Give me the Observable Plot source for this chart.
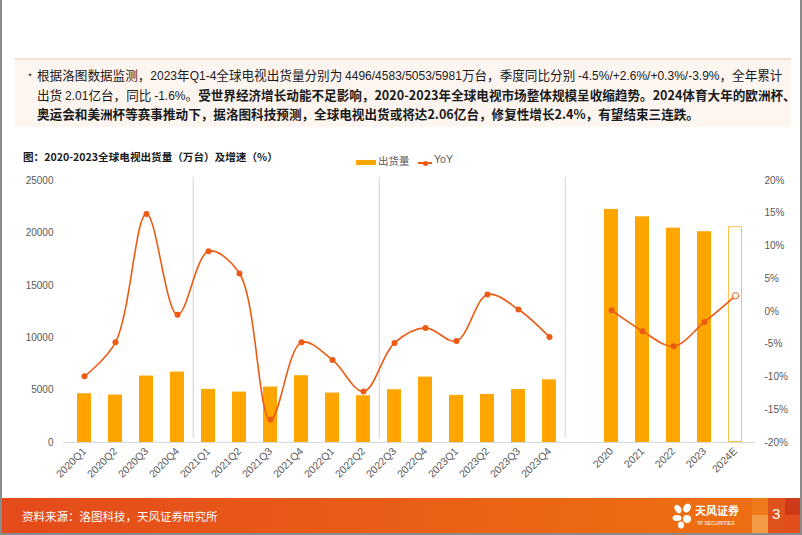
<!DOCTYPE html>
<html>
<head>
<meta charset="utf-8">
<script src="https://cdn.jsdelivr.net/npm/d3@7"></script>
<script src="https://cdn.jsdelivr.net/npm/@observablehq/plot@0.6"></script>
<style>
  html, body { margin: 0; padding: 0; }
  body { width: 802px; height: 535px; position: relative; overflow: hidden; background: #fff;
         font-family: "Noto Sans CJK SC", "Noto Sans", sans-serif; }
  .frameL { position: absolute; left: 0; top: 0; width: 2px; height: 535px; background: #8a8a8a; }
  .frameR { position: absolute; right: 0; top: 0; width: 2px; height: 535px; background: #8a8a8a; }
  .box { position: absolute; left: 15px; top: 58px; width: 776px; height: 69px; background: #fdf5f0;
         border-top: 2px solid #f1dfd2; box-sizing: border-box; }
  .bullet { position: absolute; left: 24px; top: 66px; font-size: 12px; color: #555; }
  .txt { position: absolute; left: 37px; top: 66px; font-size: 12.6px; line-height: 17.6px; color: #1a1a1a;
         white-space: nowrap; }
  .txt b { font-weight: 700; }
  .num { font-family: "Liberation Sans", Arial, sans-serif; font-size: 12px; }
  .title { position: absolute; left: 23px; top: 149px; font-size: 10.6px; font-weight: 700; color: #1a1a1a; white-space: nowrap; }
  .legend { position: absolute; top: 155px; left: 0; font-size: 10.5px; color: #595959; }
  #chart { position: absolute; left: 0; top: 170px; }
  .footer { position: absolute; left: 0; top: 498px; width: 802px; height: 35px;
            background: linear-gradient(to right, #e54a1b 0%, #e95c17 45%, #ed6d12 85%); }
  .footer .src { position: absolute; left: 22px; top: 10px; font-size: 11.5px; color: #fff; white-space: nowrap; }
  .bottom { position: absolute; left: 0; top: 533px; width: 802px; height: 2px; background: #8a8a8a; }
</style>
</head>
<body>
<div class="box"></div>
<div class="bullet">•</div>
<div class="txt" id="txt"></div>
<div class="title" id="title"></div>
<div class="legend" id="legend"></div>
<div id="chart"></div>
<div class="footer" id="footer"></div>
<div class="frameL"></div>
<div class="frameR"></div>
<div class="bottom"></div>
<script>
// ---------- data ----------
const quarters = ["2020Q1","2020Q2","2020Q3","2020Q4","2021Q1","2021Q2","2021Q3","2021Q4",
                  "2022Q1","2022Q2","2022Q3","2022Q4","2023Q1","2023Q2","2023Q3","2023Q4"];
const quarterShipments = [4650, 4530, 6340, 6720, 5065, 4810, 5290, 6370,
                          4715, 4460, 5035, 6240, 4496, 4583, 5053, 5981];
const quarterYoY = [-9.9, -4.7, 14.9, -0.5, 9.2, 5.8, -16.5, -4.7,
                    -7.4, -12.2, -4.8, -2.5, -4.5, 2.6, 0.3, -3.9];
const years = ["2020","2021","2022","2023","2024E"];
const yearShipments = [22240, 21535, 20450, 20113, 20596];
const yearYoY = [0.2, -3.0, -5.3, -1.6, 2.4];
const forecastYear = "2024E";
const gapSlot = " ";
const separatorsAfter = ["2020Q4", "2022Q2", "2023Q4"];
const leftTicks = [0, 5000, 10000, 15000, 20000, 25000];
const rightTicks = [-20, -15, -10, -5, 0, 5, 10, 15, 20];

const titleText = "图：2020-2023全球电视出货量（万台）及增速（%）";
const seriesNames = ["出货量", "YoY"];
const sourceText = "资料来源：洛图科技，天风证券研究所";

// ---------- colors ----------
const barColor = "#FFA500";
const lineColor = "#EC5B13";
const gridColor = "#d9d9d9";

// ---------- text blocks ----------
document.getElementById("txt").innerHTML =
  '根据洛图数据监测，<span class="num">2023</span>年<span class="num">Q1-4</span>全球电视出货量分别为 <span class="num">4496/4583/5053/5981</span>万台，季度同比分别 <span class="num">-4.5%/+2.6%/+0.3%/-3.9%</span>，全年累计<br>' +
  '出货 <span class="num">2.01</span>亿台，同比 <span class="num">-1.6%</span>。<b>受世界经济增长动能不足影响，2020-2023年全球电视市场整体规模呈收缩趋势。2024体育大年的欧洲杯、</b><br>' +
  '<b>奥运会和美洲杯等赛事推动下，据洛图科技预测，全球电视出货或将达2.06亿台，修复性增长2.4%，有望结束三连跌。</b>';
document.getElementById("title").textContent = titleText;
document.getElementById("legend").innerHTML =
  `<div style="position:absolute;left:356px;top:5px;width:20px;height:5px;background:${barColor}"></div>` +
  `<div style="position:absolute;left:378px;top:-2px;white-space:nowrap">${seriesNames[0]}</div>` +
  `<div style="position:absolute;left:418px;top:7px;width:14px;height:1.5px;background:${lineColor}"></div>` +
  `<div style="position:absolute;left:422.5px;top:5.5px;width:5px;height:5px;border-radius:50%;background:${lineColor}"></div>` +
  `<div style="position:absolute;left:434px;top:-2px;white-space:nowrap;font-family:'Liberation Sans',Arial">${seriesNames[1]}</div>`;
document.getElementById("footer").innerHTML =
  `<div class="src">${sourceText}</div>` +
  `<svg style="position:absolute;left:672px;top:5px" width="22" height="26" viewBox="0 0 22 26">
     <ellipse cx="6" cy="6" rx="3" ry="4.5" fill="#fff" transform="rotate(-30 6 6)"/>
     <ellipse cx="15" cy="5" rx="3.5" ry="4.5" fill="#fff" transform="rotate(30 15 5)"/>
     <ellipse cx="5" cy="15" rx="4.5" ry="3" fill="#fff"/>
     <ellipse cx="15" cy="16" rx="4" ry="4" fill="#fff"/>
     <ellipse cx="9" cy="22" rx="3" ry="3.5" fill="#fff"/>
   </svg>` +
  `<div style="position:absolute;left:695px;top:5px;font-size:11px;font-weight:700;color:#fff;white-space:nowrap;line-height:14px">天风证券</div>` +
  `<div style="position:absolute;left:697px;top:22px;font-size:5px;color:#fff;white-space:nowrap;line-height:6px;font-family:'Liberation Sans'">TF SECURITIES</div>` +
  `<div style="position:absolute;left:752px;top:0;width:16px;height:35px;background:#ee7a1c"></div>` +
  `<div style="position:absolute;left:752px;top:17px;width:16px;height:18px;background:#f39a45"></div>` +
  `<div style="position:absolute;left:768px;top:0;width:17px;height:35px;background:#e0521c"></div>` +
  `<div style="position:absolute;left:785px;top:0;width:17px;height:35px;background:#cf3a1a"></div>` +
  `<div style="position:absolute;left:785px;top:17px;width:17px;height:18px;background:#e24e1c"></div>` +
  `<div style="position:absolute;left:772px;top:7px;font-size:15px;color:#fff;font-family:'Liberation Sans',Arial">3</div>`;

// ---------- chart ----------
const toLeft = p => (p + 20) * 625;          // map YoY % onto the shipment axis
const fromLeft = v => Math.round(v / 625 - 20);

const quarterRows = quarters.map((q, i) => ({cat: q, ship: quarterShipments[i], yoy: quarterYoY[i]}));
const yearRows = years.map((y, i) => ({cat: y, ship: yearShipments[i], yoy: yearYoY[i]}));
const domain = [...quarters, gapSlot, ...years];

const W = 802, H = 328, mL = 63, mR = 47, mT = 10, mB = 56;
const step = (W - mL - mR) / domain.length;

const chart = Plot.plot({
  width: W, height: H,
  marginLeft: mL, marginRight: mR, marginTop: mT, marginBottom: mB,
  style: {fontFamily: "'Liberation Sans', Arial, sans-serif", background: "transparent"},
  x: {type: "band", domain, paddingInner: 0.55, paddingOuter: 0.275, axis: null, label: null},
  y: {domain: [0, 25000], axis: null, label: null},
  marks: [
    Plot.ruleX(separatorsAfter, {x: d => d, y1: 0, y2: 25000, dx: step / 2, insetTop: -4, insetBottom: 3, stroke: gridColor, strokeWidth: 1.2}),
    Plot.ruleY([0], {stroke: gridColor, strokeWidth: 1.2}),
    Plot.barY(quarterRows, {x: "cat", y: "ship", fill: barColor}),
    Plot.barY(yearRows.filter(d => d.cat !== forecastYear), {x: "cat", y: "ship", fill: barColor}),
    Plot.barY(yearRows.filter(d => d.cat === forecastYear), {x: "cat", y: "ship", fill: "#fff", stroke: "#FFC04D", strokeWidth: 1, inset: 0.5}),
    Plot.line(quarterRows, {x: "cat", y: d => toLeft(d.yoy), stroke: lineColor, strokeWidth: 1.6, curve: "catmull-rom"}),
    Plot.dot(quarterRows, {x: "cat", y: d => toLeft(d.yoy), r: 3, fill: lineColor}),
    Plot.line(yearRows, {x: "cat", y: d => toLeft(d.yoy), stroke: lineColor, strokeWidth: 1.6, curve: "catmull-rom"}),
    Plot.dot(yearRows.filter(d => d.cat !== forecastYear), {x: "cat", y: d => toLeft(d.yoy), r: 3, fill: lineColor}),
    Plot.dot(yearRows.filter(d => d.cat === forecastYear), {x: "cat", y: d => toLeft(d.yoy), r: 3.2, fill: "#fff", stroke: lineColor, strokeWidth: 1}),
    Plot.axisY(leftTicks, {anchor: "left", label: null, tickSize: 0, tickPadding: 10, fontSize: 10, color: "#595959", tickFormat: d => String(d)}),
    Plot.axisY(rightTicks.map(toLeft), {anchor: "right", label: null, tickSize: 0, tickPadding: 9, fontSize: 10, color: "#595959", tickFormat: v => fromLeft(v) + "%"}),
    Plot.axisX({label: null, tickRotate: -45, tickSize: 0, tickPadding: 7, fontSize: 10.5, color: "#595959", tickFormat: d => d.trim()})
  ]
});
document.getElementById("chart").appendChild(chart);
</script>
</body>
</html>
